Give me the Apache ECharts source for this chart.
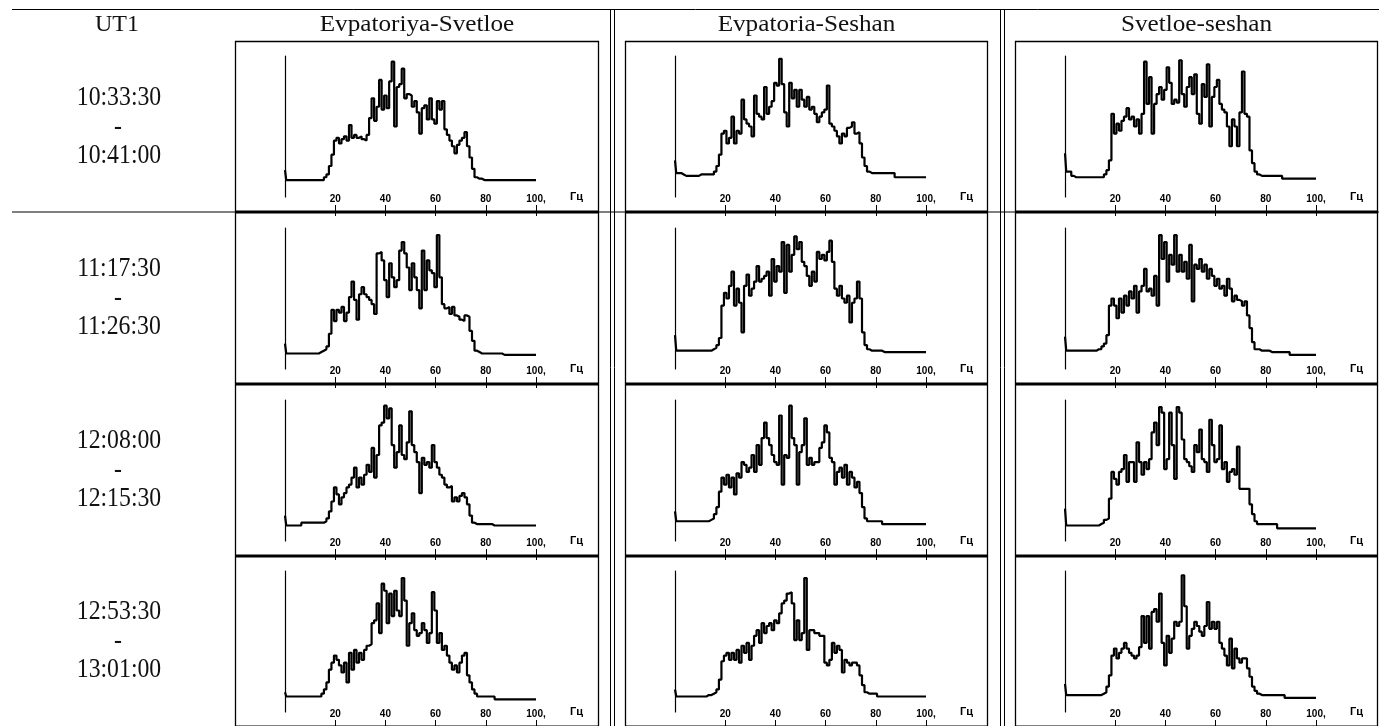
<!DOCTYPE html>
<html>
<head>
<meta charset="utf-8">
<script src="https://cdn.jsdelivr.net/npm/echarts@6/dist/echarts.min.js"></script>
<style>
  html, body { margin: 0; padding: 0; background: #fff; }
  #chart { width: 1379px; height: 726px; }
</style>
</head>
<body>
<div id="chart"></div>
<script>
// ---------------- data ----------------
var baselines = ['Evpatoriya-Svetloe', 'Evpatoria-Seshan', 'Svetloe-seshan'];
var timeFrom = ['10:33:30', '11:17:30', '12:08:00', '12:53:30'];
var timeTo = ['10:41:00', '11:26:30', '12:15:30', '13:01:00'];
var tickValues = [20, 40, 60, 80, 100];
var tickLabels = ['20', '40', '60', '80', '100,'];
var unitLabel = 'Гц';
var freqStep = 1; // Hz between samples, first sample at 0 Hz

// spectra, one value per Hz (0..100), relative amplitude 0..100
var es1033 = [
  19,12,12,12,12,12,12,12,12,12, 12,12,12,12,12,12,14,16,22,30,
  40,42,38,41,43,40,51,42,44,42, 43,41,40,44,56,70,54,64,83,62,
  72,63,82,96,50,78,80,91,70,73, 72,64,68,60,45,63,65,55,70,55,
  52,68,62,68,48,44,40,36,31,37, 40,42,46,36,28,20,14,13,13,12,
  12,12,12,12,12,12,12,12,12,12, 12,12,12,12,12,12,12,12,12,12, 12];
var esh1033 = [
  26,17,17,16,15,15,15,15,15,15, 16,16,16,16,16,16,18,22,30,45,
  47,38,42,57,38,47,45,69,55,52, 50,43,72,59,57,55,78,59,64,68,
  81,79,98,80,60,50,81,70,76,64, 76,69,64,71,62,64,59,53,57,60,
  62,79,52,50,47,43,38,45,43,49, 50,53,45,46,38,28,22,18,17,17,
  17,17,17,17,17,17,17,17,14,14, 14,14,14,14,14,14,14,14,14,14, 14];
var ssh1033 = [
  31,18,18,15,14,14,14,14,14,14, 14,14,14,14,14,14,16,19,26,59,
  45,52,47,54,57,63,55,57,50,55, 45,59,96,66,85,45,66,73,78,69,
  76,92,81,66,69,67,97,73,64,78, 85,73,87,59,52,80,71,94,50,71,
  78,83,66,62,60,50,36,55,50,36, 60,89,59,57,33,24,18,16,15,15,
  15,15,15,15,15,15,15,13,13,13, 13,13,13,13,13,13,13,13,13,13, 13];

var es1117 = [
  18,11,11,11,11,11,11,11,11,11, 11,11,11,11,12,13,14,16,25,42,
  34,42,40,44,34,40,51,62,49,35, 53,58,53,51,49,46,39,82,83,77,
  63,51,75,65,58,63,84,90,82,72, 56,75,65,56,43,84,56,77,70,68,
  58,95,65,46,43,44,39,44,38,37, 35,34,38,37,27,20,13,12,11,11,
  11,11,11,11,11,11,11,10,10,10, 10,10,10,10,10,10,10,10,10,10, 10];
var esh1117 = [
  24,13,13,13,13,13,13,13,13,13, 13,13,13,13,13,14,15,17,22,45,
  54,50,59,69,45,57,47,26,59,67, 52,57,62,73,62,64,66,69,52,78,
  62,73,69,90,54,88,69,81,94,85, 90,76,73,66,59,69,62,83,78,81,
  77,83,91,76,57,52,59,50,47,52, 33,47,50,62,50,26,17,14,13,13,
  13,13,13,12,12,12,12,12,12,12, 12,12,12,12,12,12,12,12,12,12, 12];
var ssh1117 = [
  23,13,13,13,13,13,13,13,13,13, 13,13,13,14,14,16,18,24,45,50,
  45,36,50,40,52,45,55,50,59,40, 55,59,71,55,57,52,66,45,95,78,
  90,62,81,74,95,69,81,69,76,64, 88,48,74,71,78,69,74,64,71,66,
  59,64,57,59,52,64,57,48,52,49, 48,45,48,38,29,19,14,14,13,13,
  13,13,12,12,12,12,12,12,12,12, 10,10,10,10,10,10,10,10,10,10, 10];

var es1208 = [
  18,11,11,11,11,11,11,13,13,13, 13,13,13,13,13,13,14,16,21,28,
  38,33,26,31,34,38,40,45,52,38, 45,40,47,54,49,66,45,61,82,84,
  96,87,94,68,52,63,82,61,58,70, 92,68,63,56,34,59,54,56,52,68,
  56,52,47,45,40,38,39,28,31,28, 32,34,31,26,18,13,12,12,12,12,
  12,12,12,11,11,11,11,11,11,11, 11,11,11,11,11,11,11,11,11,11, 11];
var esh1208 = [
  21,14,14,14,14,14,14,14,14,14, 14,14,14,14,15,16,19,24,35,45,
  40,47,38,45,33,48,45,56,54,49, 52,61,49,68,54,73,84,73,68,61,
  56,54,89,40,61,59,96,73,68,40, 63,68,87,54,59,54,56,56,66,70,
  82,77,59,56,40,49,52,45,54,40, 49,45,38,42,34,24,16,14,14,14,
  14,14,14,12,12,12,12,12,12,12, 12,12,12,12,12,12,12,12,12,12, 12];
var ssh1208 = [
  23,11,11,11,11,11,11,11,11,11, 11,11,11,11,12,13,15,16,30,49,
  44,40,49,51,61,42,56,56,42,70, 56,47,56,51,58,77,84,68,95,91,
  51,58,91,68,44,95,91,72,58,56, 53,49,68,63,79,58,56,49,86,68,
  56,58,82,51,56,42,49,51,47,67, 37,37,37,37,26,19,14,12,12,12,
  12,12,12,12,12,9,9,9,9,9, 9,9,9,9,9,9,9,9,9,9, 9];

var es1253 = [
  14,11,11,11,11,11,11,11,11,11, 11,11,11,11,11,13,16,21,30,35,
  40,37,33,28,35,21,42,30,44,35, 42,37,44,47,48,63,65,77,56,91,
  86,63,84,68,86,72,68,95,79,47, 63,70,58,54,56,63,58,49,56,85,
  72,49,56,44,47,40,35,30,33,28, 35,40,42,26,21,16,13,11,11,11,
  11,11,11,11,9,9,9,9,9,9, 9,9,9,9,9,9,9,9,9,9, 9];
var esh1253 = [
  16,11,11,11,11,11,11,11,11,11, 11,11,11,12,12,13,14,16,23,36,
  40,42,37,42,37,44,35,47,42,49, 37,47,54,58,49,63,56,61,63,58,
  65,63,70,77,79,84,85,77,51,65, 51,56,95,44,58,58,56,56,54,54,
  35,33,37,49,42,47,44,28,37,35, 33,35,35,33,26,19,14,13,13,13,
  13,11,11,11,11,11,11,11,11,11, 11,11,11,11,11,11,11,11,11,11, 11];
var ssh1253 = [
  20,12,12,12,12,12,12,12,12,12, 12,12,12,12,12,13,14,18,26,40,
  45,38,42,45,49,45,42,40,38,40, 46,68,49,68,45,71,73,64,84,49,
  33,54,42,52,64,61,64,97,75,45, 54,59,64,61,57,54,61,78,59,64,
  59,64,49,45,40,33,52,31,45,38, 35,38,38,31,25,18,15,13,12,12,
  12,12,12,12,12,12,12,12,10,10, 10,10,10,10,10,10,10,10,10,10, 10];

var spectra = [
  [es1033, esh1033, ssh1033],
  [es1117, esh1117, ssh1117],
  [es1208, esh1208, ssh1208],
  [es1253, esh1253, ssh1253]
];

// ---------------- layout ----------------
var panelL = [235, 625, 1015];
var panelR = [599, 988, 1378];
var axisX = [285, 675, 1065];
var gridTop = [56, 228, 400, 571];
var thickY = [212, 384, 556, 727];
var rowMid = [126.5, 298, 470, 641];
var plotW = 251, plotH = 141;
var serif = '"Liberation Serif", "Times New Roman", serif';

var grids = [], xAxes = [], yAxes = [], series = [], graphics = [];

for (var r = 0; r < 4; r++) {
  for (var c = 0; c < 3; c++) {
    var k = r * 3 + c;
    grids.push({ left: axisX[c], top: gridTop[r], width: plotW, height: plotH });
    // labels axis
    xAxes.push({
      type: 'value', gridIndex: k, min: 0, max: 100, interval: 20,
      axisLine: { show: false }, axisTick: { show: false }, splitLine: { show: false },
      axisLabel: {
        customValues: tickValues,
        margin: 2, verticalAlign: 'middle',
        color: '#000', fontFamily: '"Liberation Sans", Arial, sans-serif',
        fontWeight: 'bold', fontSize: 10,
        formatter: function (v) { return tickLabels[tickValues.indexOf(v)] || ''; }
      },
      name: unitLabel, nameLocation: 'end', nameGap: 34,
      nameTextStyle: { color: '#000', fontWeight: 'bold', fontSize: 11,
        fontFamily: '"Liberation Sans", Arial, sans-serif', verticalAlign: 'middle', padding: [4, 0, 0, 0] }
    });
    // ticks on the thick panel border
    xAxes.push({
      type: 'value', gridIndex: k, min: 0, max: 100, interval: 20,
      position: 'bottom', offset: 8,
      axisLine: { show: false }, splitLine: { show: false }, axisLabel: { show: false },
      axisTick: { show: true, customValues: tickValues, length: 11, lineStyle: { color: '#000', width: 1 } }
    });
    yAxes.push({
      type: 'value', gridIndex: k, min: 0, max: 100,
      axisLine: { show: true, lineStyle: { color: '#000', width: 1.2 } },
      axisTick: { show: false }, axisLabel: { show: false }, splitLine: { show: false }
    });
    series.push({
      type: 'line', xAxisIndex: 2 * k, yAxisIndex: k,
      step: 'middle', showSymbol: false, silent: true,
      lineStyle: { color: '#000', width: 2.2 },
      data: spectra[r][c].map(function (v, i) { return [i * freqStep, v]; })
    });
  }
}

function hline(x1, x2, y, w) {
  graphics.push({ type: 'line', shape: { x1: x1, y1: y, x2: x2, y2: y }, style: { stroke: '#000', lineWidth: w } });
}
function vline(x, y1, y2, w) {
  graphics.push({ type: 'line', shape: { x1: x, y1: y1, x2: x, y2: y2 }, style: { stroke: '#000', lineWidth: w } });
}
function label(text, x, y, size, sx) {
  graphics.push({
    type: 'text', x: x, y: y, scaleX: sx || 1,
    style: { text: text, font: size + 'px ' + serif, fill: '#111', textAlign: 'center', textVerticalAlign: 'middle' }
  });
}

// table frame
hline(12, 1379, 9.5, 1);
hline(12, 1379, 212, 1);
vline(610.5, 9, 726, 1); vline(614.5, 9, 726, 1);
vline(1000.5, 9, 726, 1); vline(1004.5, 9, 726, 1);
for (var c2 = 0; c2 < 3; c2++) {
  vline(panelL[c2] + 0.5, 41, 726, 1.3);
  vline(panelR[c2] - 0.5, 41, 726, 1.3);
  hline(panelL[c2], panelR[c2], 41.5, 1.3);
  for (var r2 = 0; r2 < 4; r2++) hline(panelL[c2], panelR[c2], thickY[r2], 3);
  label(baselines[c2], (panelL[c2] + panelR[c2]) / 2, 25, 24, 1.05);
}
label('UT1', 117, 25, 24);
for (var r3 = 0; r3 < 4; r3++) {
  label(timeFrom[r3], 119, rowMid[r3] - 29, 27, 0.88);
  label('-', 118, rowMid[r3], 27, 0.88);
  label(timeTo[r3], 119, rowMid[r3] + 29, 27, 0.88);
}

var chart = echarts.init(document.getElementById('chart'));
chart.setOption({
  animation: false,
  backgroundColor: '#fff',
  grid: grids,
  xAxis: xAxes,
  yAxis: yAxes,
  series: series,
  graphic: graphics
});
</script>
</body>
</html>
